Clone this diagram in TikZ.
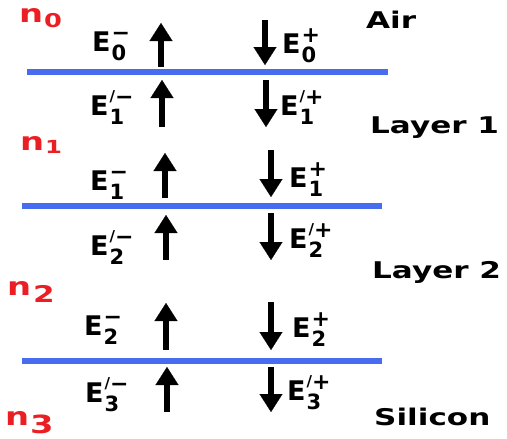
\documentclass[tikz,border=0pt]{standalone}
\usepackage{fontspec}
\setmainfont{DejaVu Sans}
\newfontfamily\widefont{DejaVu Sans}[FakeStretch=1.35]
\usetikzlibrary{arrows.meta}

\definecolor{ifaceblue}{RGB}{72,108,240}
\definecolor{idxred}{RGB}{235,30,35}

% field amplitude: E with subscript #1, sign #2, optional prime #3
\newcommand\efld[3]{E\kern1pt\rlap{\raisebox{-9pt}{\fontsize{21}{21}\selectfont #1}}%
  \ifx&#3&\else\raisebox{14pt}{\fontsize{15}{15}\selectfont /}\kern0pt\fi
  \raisebox{11pt}{\fontsize{22}{22}\selectfont #2}}

\begin{document}
\begin{tikzpicture}[x=1pt,y=-1pt,
  interface/.style={line width=6pt, draw=ifaceblue},
  wave/.style={line width=6.5pt, -{Triangle[width=23pt,length=18pt,line width=0.1pt]}},
  field/.style={anchor=base west, inner sep=0pt, font=\bfseries\fontsize{27}{27}\selectfont},
  medium/.style={anchor=base west, inner sep=0pt, font=\widefont\bfseries\fontsize{23}{23}\selectfont},
  index/.style={anchor=base west, inner sep=0pt, text=idxred, font=\widefont\bfseries\fontsize{25}{25}\selectfont}]
\useasboundingbox (0,0) rectangle (507,439);

% interfaces
\draw[interface] (27,72) -- (388,72);
\draw[interface] (22,206) -- (382,206);
\draw[interface] (22,361) -- (382,361);

% backward waves (upwards)
\draw[wave] (161,67) -- (161,23);
\draw[wave] (162,127) -- (162,80);
\draw[wave] (165,198) -- (165,153);
\draw[wave] (166,260) -- (166,215);
\draw[wave] (166,350) -- (166,303);
\draw[wave] (167,412) -- (167,367);

% forward waves (downwards)
\draw[wave] (265,20) -- (265,65);
\draw[wave] (266,80) -- (266,127);
\draw[wave] (271,150) -- (271,197);
\draw[wave] (271,213) -- (271,260);
\draw[wave] (271,302) -- (271,350);
\draw[wave] (271,367) -- (271,412);

% amplitudes, left column
\node[field] (em0)  at (92,52)  {\efld{0}{−}{}};
\node[field] (em1p) at (90,115) {\efld{1}{−}{p}};
\node[field] (em1)  at (90,190) {\efld{1}{−}{}};
\node[field] (em2p) at (90,255) {\efld{2}{−}{p}};
\node[field] (em2)  at (84,335) {\efld{2}{−}{}};
\node[field] (em3p) at (85,402) {\efld{3}{−}{p}};

% amplitudes, right column
\node[field] (ep0)  at (282,53)  {\efld{0}{+}{}};
\node[field] (ep1p) at (280,115) {\efld{1}{+}{p}};
\node[field] (ep1)  at (289,187) {\efld{1}{+}{}};
\node[field] (ep2p) at (289,248) {\efld{2}{+}{p}};
\node[field] (ep2)  at (292,337) {\efld{2}{+}{}};
\node[field] (ep3p) at (287,400) {\efld{3}{+}{p}};

% media
\node[medium] (air) at (366,28)  {Air};
\node[medium] (l1)  at (370,133) {Layer 1};
\node[medium] (l2)  at (372,278) {Layer 2};
\node[medium] (si)  at (374,425) {Silicon};

% refractive indices
\node[index] (n0) at (19,23)  {n\kern1pt\raisebox{-5pt}{\fontsize{19}{19}\selectfont 0}};
\node[index] (n1) at (20,150) {n\kern1pt\raisebox{-3pt}{\fontsize{18}{18}\selectfont 1}};
\node[index] (n2) at (7,295)  {n\kern2pt\raisebox{-7pt}{\fontsize{23}{23}\selectfont 2}};
\node[index] (n3) at (5,425)  {n\kern1pt\raisebox{-8pt}{\fontsize{25}{25}\selectfont 3}};
\end{tikzpicture}
\end{document}
